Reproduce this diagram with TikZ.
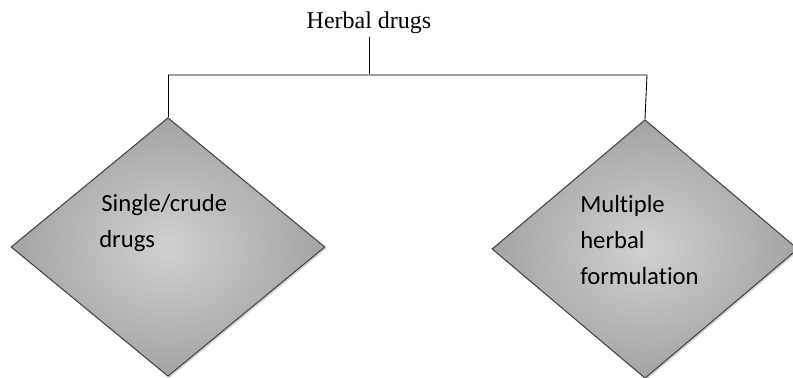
\documentclass[tikz,border=0pt]{standalone}
\usepackage{fontspec}
\setmainfont{Liberation Serif}
\newfontfamily\calibri[Ligatures=NoCommon]{Carlito}
\usepackage{tikz}
\usetikzlibrary{shapes.geometric, shadows, positioning}

\begin{document}
\begin{tikzpicture}[x=0.75pt, y=-0.75pt,
    kind/.style={diamond, draw=gray!55!black, line width=0.8pt, inner sep=0pt,
        shade, inner color=gray!36, outer color=gray!72,
        drop shadow={shadow xshift=1.2pt, shadow yshift=-1.2pt, opacity=0.35}},
    kindtext/.style={anchor=north west, inner sep=0pt, align=left,
        font=\calibri\fontsize{18.5}{27}\selectfont},
    bar/.style={draw=gray!75, line width=1.8pt},
    stem/.style={draw=black, line width=0.65pt}
]
    \useasboundingbox (0,0) rectangle (793,378);
    % top
    \node[font=\fontsize{18}{22}\selectfont, inner sep=2pt] (herbal) at (369,23) {Herbal drugs};
    \coordinate (split) at (369,75);
    \coordinate (barL) at (168,75);
    \coordinate (barR) at (647,75);
    % the two kinds
    \node[kind, minimum width=235.5pt, minimum height=194pt] (single) at (168,247) {};
    \node[kind, minimum width=229.5pt, minimum height=194pt] (multi) at (645,249) {};
    \node[kindtext] (singletxt) at (99,194) {\hspace{4\pgflinewidth}Single/crude\\drugs};
    \node[kindtext] (multitxt) at (580,195) {Multiple\\herbal\\formulation};
    % connectors
    \draw[stem] (herbal.south) -- (split);
    \draw[bar] (barL) -- (barR);
    \draw[stem] (barL) -- (single.north);
    \draw[stem] (barR) -- (multi.north);
\end{tikzpicture}
\end{document}
